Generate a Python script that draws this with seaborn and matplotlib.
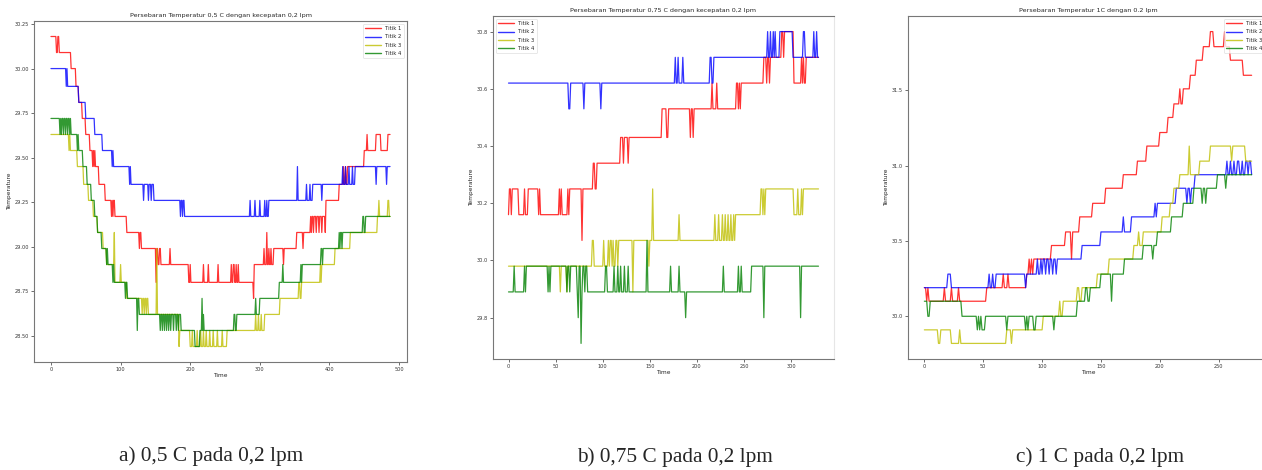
import numpy as np
import pandas as pd
import matplotlib
matplotlib.use("Agg")
import matplotlib.pyplot as plt
from matplotlib.ticker import MultipleLocator, FormatStrFormatter
import seaborn as sns

#%% Data: (start time, temperature) change points
# a) 0,5 C pada 0,2 lpm
n_a = 488
red_a = [(0, 30.18), (8, 30.09), (10, 30.18), (12, 30.09), (29, 30.00), (36, 29.90), (40, 29.81),
         (45, 29.72), (50, 29.63), (56, 29.54), (60, 29.45), (61, 29.54), (62, 29.45), (63, 29.54),
         (64, 29.45), (69, 29.35), (78, 29.26), (87, 29.17), (88, 29.26), (89, 29.17), (90, 29.26),
         (92, 29.17), (109, 29.08), (127, 28.99), (128, 29.08), (130, 28.99), (151, 28.80), (152, 28.99),
         (154, 28.90), (156, 28.99), (158, 28.90), (171, 28.99), (172, 28.90), (198, 28.80), (200, 28.90),
         (201, 28.80), (219, 28.90), (220, 28.80), (226, 28.90), (227, 28.80), (240, 28.90), (241, 28.80),
         (259, 28.90), (260, 28.80), (262, 28.90), (264, 28.80), (266, 28.90), (267, 28.80), (269, 28.90),
         (270, 28.80), (291, 28.71), (292, 28.90), (306, 28.99), (307, 28.90), (310, 29.08), (311, 28.90),
         (313, 28.99), (314, 28.90), (316, 28.99), (317, 28.90), (320, 28.99), (334, 28.90), (335, 28.99),
         (353, 29.08), (362, 28.99), (363, 29.08), (373, 29.17), (374, 29.08), (375, 29.17), (377, 29.08),
         (378, 29.17), (381, 29.08), (382, 29.17), (385, 29.08), (386, 29.17), (389, 29.08), (390, 29.17),
         (394, 29.08), (395, 29.26), (414, 29.35), (420, 29.45), (421, 29.35), (423, 29.45), (424, 29.35),
         (426, 29.45), (450, 29.54), (454, 29.63), (455, 29.54), (467, 29.63), (474, 29.54), (484, 29.63)]
blue_a = [(0, 30.00), (22, 29.90), (23, 30.00), (24, 29.90), (40, 29.81), (50, 29.72), (63, 29.63),
          (74, 29.54), (88, 29.45), (89, 29.54), (90, 29.45), (113, 29.35), (114, 29.45), (115, 29.35),
          (133, 29.26), (134, 29.35), (140, 29.26), (141, 29.35), (144, 29.26), (145, 29.35), (148, 29.26),
          (186, 29.17), (187, 29.26), (189, 29.17), (190, 29.26), (192, 29.17), (286, 29.26), (287, 29.17),
          (293, 29.26), (294, 29.17), (300, 29.26), (301, 29.17), (307, 29.26), (308, 29.17), (310, 29.26),
          (311, 29.17), (313, 29.26), (354, 29.45), (355, 29.26), (367, 29.35), (368, 29.26), (372, 29.35),
          (373, 29.26), (376, 29.35), (389, 29.26), (390, 29.35), (419, 29.45), (420, 29.35), (423, 29.45),
          (424, 29.35), (428, 29.45), (429, 29.35), (433, 29.45), (434, 29.35), (437, 29.45), (467, 29.35),
          (468, 29.45), (482, 29.35), (483, 29.45)]
yellow_a = [(0, 29.63), (26, 29.54), (27, 29.63), (28, 29.54), (38, 29.45), (47, 29.35), (54, 29.26),
            (61, 29.17), (67, 29.08), (75, 28.99), (80, 28.90), (91, 29.08), (92, 28.80), (100, 28.90),
            (101, 28.80), (109, 28.71), (131, 28.62), (132, 28.71), (134, 28.62), (135, 28.71), (137, 28.62),
            (138, 28.71), (140, 28.62), (152, 28.99), (153, 28.62), (184, 28.44), (185, 28.53), (200, 28.44),
            (203, 28.53), (204, 28.44), (210, 28.53), (211, 28.44), (215, 28.53), (216, 28.44), (219, 28.53),
            (220, 28.44), (223, 28.53), (224, 28.44), (228, 28.53), (229, 28.44), (233, 28.53), (234, 28.44),
            (239, 28.53), (240, 28.44), (246, 28.53), (247, 28.44), (253, 28.53), (294, 28.62), (295, 28.53),
            (298, 28.62), (299, 28.53), (302, 28.62), (303, 28.53), (307, 28.62), (329, 28.71), (356, 28.80),
            (358, 28.71), (360, 28.80), (387, 28.90), (388, 28.80), (389, 28.90), (408, 28.99), (430, 29.08),
            (469, 29.17), (471, 29.26), (472, 29.17), (484, 29.26), (486, 29.17)]
green_a = [(0, 29.72), (13, 29.63), (14, 29.72), (15, 29.63), (16, 29.72), (18, 29.63), (19, 29.72),
           (21, 29.63), (22, 29.72), (24, 29.63), (25, 29.72), (27, 29.63), (28, 29.72), (29, 29.63),
           (38, 29.54), (39, 29.63), (40, 29.54), (46, 29.45), (52, 29.35), (58, 29.26), (63, 29.17),
           (67, 29.08), (73, 28.99), (80, 28.90), (81, 28.99), (82, 28.90), (89, 28.80), (90, 28.90),
           (91, 28.80), (107, 28.71), (108, 28.80), (110, 28.71), (124, 28.53), (125, 28.71), (127, 28.62),
           (157, 28.53), (158, 28.62), (160, 28.53), (161, 28.62), (163, 28.53), (164, 28.62), (166, 28.53),
           (167, 28.62), (169, 28.53), (170, 28.62), (172, 28.53), (173, 28.62), (176, 28.53), (177, 28.62),
           (180, 28.53), (181, 28.62), (183, 28.53), (184, 28.62), (187, 28.53), (207, 28.44), (214, 28.53),
           (217, 28.71), (218, 28.53), (219, 28.62), (220, 28.53), (263, 28.62), (265, 28.53), (267, 28.62),
           (294, 28.71), (295, 28.62), (300, 28.71), (328, 28.80), (333, 28.90), (334, 28.80), (359, 28.90),
           (360, 28.80), (361, 28.90), (388, 28.99), (390, 28.90), (391, 28.99), (414, 29.08), (415, 28.99),
           (416, 29.08), (418, 28.99), (419, 29.08), (448, 29.17), (450, 29.08), (452, 29.17)]

# b) 0,75 C pada 0,2 lpm
n_b = 330
red_b = [(0, 30.16), (1, 30.25), (3, 30.16), (4, 30.25), (11, 30.16), (17, 30.25), (18, 30.16),
         (21, 30.25), (32, 30.16), (33, 30.25), (34, 30.16), (54, 30.25), (55, 30.16), (56, 30.25),
         (57, 30.16), (63, 30.25), (64, 30.16), (65, 30.25), (78, 30.07), (79, 30.25), (90, 30.34),
         (92, 30.25), (94, 30.34), (119, 30.43), (122, 30.34), (123, 30.43), (127, 30.34), (128, 30.43),
         (163, 30.53), (168, 30.43), (170, 30.53), (193, 30.43), (194, 30.53), (196, 30.43), (197, 30.53),
         (216, 30.62), (217, 30.53), (221, 30.62), (222, 30.53), (242, 30.62), (244, 30.53), (245, 30.62),
         (246, 30.53), (247, 30.62), (271, 30.71), (274, 30.62), (275, 30.71), (277, 30.62), (278, 30.71),
         (290, 30.80), (292, 30.71), (293, 30.80), (303, 30.62), (311, 30.71), (312, 30.62), (313, 30.71),
         (314, 30.62), (316, 30.71)]
blue_b = [(0, 30.62), (64, 30.53), (66, 30.62), (80, 30.53), (81, 30.62), (98, 30.53), (99, 30.62),
          (177, 30.71), (178, 30.62), (180, 30.71), (181, 30.62), (185, 30.71), (186, 30.62), (214, 30.71),
          (216, 30.62), (218, 30.71), (275, 30.80), (276, 30.71), (278, 30.80), (279, 30.71), (281, 30.80),
          (282, 30.71), (283, 30.80), (284, 30.71), (288, 30.80), (302, 30.71), (313, 30.80), (315, 30.71),
          (324, 30.80), (325, 30.71), (327, 30.80), (328, 30.71)]
yellow_b = [(0, 29.98), (55, 29.89), (56, 29.98), (62, 29.89), (63, 29.98), (89, 30.07), (91, 29.98),
            (101, 30.07), (102, 29.98), (106, 30.07), (107, 29.98), (108, 30.07), (110, 29.98), (111, 30.07),
            (112, 29.98), (114, 30.07), (116, 29.98), (117, 30.07), (132, 29.89), (133, 30.07), (149, 29.98),
            (150, 30.07), (153, 30.25), (154, 30.07), (181, 30.16), (182, 30.07), (219, 30.16), (220, 30.07),
            (223, 30.16), (224, 30.07), (227, 30.16), (228, 30.07), (230, 30.16), (231, 30.07), (233, 30.16),
            (234, 30.07), (236, 30.16), (237, 30.07), (239, 30.16), (240, 30.07), (241, 30.16), (268, 30.25),
            (270, 30.16), (271, 30.25), (272, 30.16), (273, 30.25), (303, 30.16), (307, 30.25), (308, 30.16),
            (311, 30.25), (312, 30.16), (313, 30.25)]
green_b = [(0, 29.89), (6, 29.98), (7, 29.89), (17, 29.98), (18, 29.89), (19, 29.98), (42, 29.89),
           (43, 29.98), (44, 29.89), (45, 29.98), (62, 29.89), (63, 29.98), (65, 29.89), (66, 29.98),
           (73, 29.89), (74, 29.80), (75, 29.98), (77, 29.71), (78, 29.89), (79, 29.98), (81, 29.89),
           (82, 29.98), (84, 29.89), (103, 29.98), (105, 29.89), (112, 29.98), (113, 29.89), (116, 29.98),
           (117, 29.89), (119, 29.98), (120, 29.89), (123, 29.98), (124, 29.89), (127, 29.98), (128, 29.89),
           (147, 30.07), (148, 29.89), (172, 29.98), (173, 29.89), (181, 29.98), (182, 29.89), (188, 29.80),
           (189, 29.89), (228, 29.98), (229, 29.89), (244, 29.98), (245, 29.89), (247, 29.98), (248, 29.89),
           (258, 29.98), (271, 29.80), (272, 29.98), (310, 29.80), (311, 29.98)]

# c) 1 C pada 0,2 lpm
n_c = 279
red_c = [(0, 30.19), (2, 30.10), (3, 30.19), (4, 30.10), (17, 30.19), (18, 30.10), (23, 30.19),
         (24, 30.10), (29, 30.19), (30, 30.10), (53, 30.19), (67, 30.28), (68, 30.19), (71, 30.28),
         (72, 30.19), (87, 30.28), (89, 30.38), (90, 30.28), (91, 30.38), (92, 30.28), (93, 30.38),
         (108, 30.47), (120, 30.56), (125, 30.38), (126, 30.56), (132, 30.66), (143, 30.75), (154, 30.85),
         (169, 30.94), (181, 31.03), (189, 31.13), (200, 31.22), (207, 31.32), (212, 31.41), (217, 31.51),
         (218, 31.41), (220, 31.51), (226, 31.60), (231, 31.70), (237, 31.79), (243, 31.89), (246, 31.79),
         (255, 31.89), (256, 31.79), (260, 31.70), (271, 31.60)]
blue_c = [(0, 30.19), (20, 30.28), (23, 30.19), (55, 30.28), (56, 30.19), (58, 30.28), (59, 30.19),
          (61, 30.28), (86, 30.19), (87, 30.28), (96, 30.38), (97, 30.28), (99, 30.38), (100, 30.28),
          (101, 30.38), (103, 30.28), (104, 30.38), (106, 30.28), (107, 30.38), (109, 30.28), (110, 30.38),
          (112, 30.28), (113, 30.38), (134, 30.47), (150, 30.56), (169, 30.66), (170, 30.56), (176, 30.66),
          (196, 30.75), (197, 30.66), (198, 30.75), (214, 30.85), (223, 30.75), (224, 30.85), (226, 30.75),
          (227, 30.85), (230, 30.94), (257, 31.03), (258, 30.94), (260, 31.03), (261, 30.94), (263, 31.03),
          (264, 30.94), (266, 31.03), (268, 30.94), (270, 31.03), (271, 30.94), (273, 31.03), (275, 30.94),
          (276, 31.03), (278, 30.94)]
yellow_c = [(0, 29.91), (12, 29.82), (14, 29.91), (23, 29.82), (30, 29.91), (31, 29.82), (70, 29.91),
            (74, 29.82), (75, 29.91), (101, 30.00), (115, 30.10), (116, 30.00), (118, 30.10), (130, 30.19),
            (132, 30.10), (134, 30.19), (147, 30.28), (157, 30.38), (178, 30.47), (182, 30.56), (183, 30.47),
            (186, 30.56), (202, 30.66), (209, 30.75), (212, 30.85), (217, 30.94), (225, 31.13), (226, 30.94),
            (234, 31.03), (243, 31.13), (261, 31.03), (262, 31.13), (273, 31.03)]
green_c = [(0, 30.10), (3, 30.00), (5, 30.10), (32, 30.00), (45, 29.91), (46, 30.00), (47, 29.91),
           (48, 30.00), (49, 29.91), (52, 30.00), (70, 29.91), (71, 30.00), (86, 29.91), (87, 30.00),
           (88, 29.91), (89, 30.00), (93, 29.91), (95, 30.00), (110, 29.91), (111, 30.00), (130, 30.10),
           (137, 30.19), (139, 30.10), (141, 30.19), (150, 30.28), (159, 30.10), (160, 30.28), (170, 30.38),
           (186, 30.47), (194, 30.38), (195, 30.47), (198, 30.56), (210, 30.66), (220, 30.75), (229, 30.85),
           (236, 30.75), (237, 30.85), (239, 30.75), (240, 30.85), (249, 30.94), (256, 30.85), (257, 30.94)]

labels = ["Titik 1", "Titik 2", "Titik 3", "Titik 4"]
colors = ["#ff0000", "#0000ff", "#bfbf00", "#008000"]
titles = ["Persebaran Temperatur 0,5 C dengan kecepatan 0,2 lpm",
          "Persebaran Temperatur 0,75 C dengan kecepatan 0,2 lpm",
          "Persebaran Temperatur 1C dengan 0.2 lpm"]
captions = ["a) 0,5 C pada 0,2 lpm", "b) 0,75 C pada 0,2 lpm", "c) 1 C pada 0,2 lpm"]


def expand(points, n):
    # step series from change points
    t = [p[0] for p in points] + [n]
    v = [p[1] for p in points]
    return np.repeat(v, np.diff(t))


def make_frame(series, n):
    frames = []
    for lab, pts in zip(labels, series):
        y = expand(pts, n)
        frames.append(pd.DataFrame({"Time": np.arange(n), "Temperature": y, "Titik": lab}))
    return pd.concat(frames, ignore_index=True)


data_a = make_frame([red_a, blue_a, yellow_a, green_a], n_a)
data_b = make_frame([red_b, blue_b, yellow_b, green_b], n_b)
data_c = make_frame([red_c, blue_c, yellow_c, green_c], n_c)

#%% Figure
sns.set_theme(style="ticks", color_codes=False)
plt.rcParams['font.family'] = ['DejaVu Sans']
W, H = 1262, 470
fig = plt.figure(figsize=(W / 100, H / 100), dpi=100)
fig.patch.set_facecolor("white")

boxes = [(34, 21, 407, 362), (493, 16, 834, 359), (908, 16, 1268, 359)]
frames = [data_a, data_b, data_c]
xsteps = [100, 50, 50]
ysteps = [0.25, 0.2, 0.5]
yfmt = ["%.2f", "%.1f", "%.1f"]
leg_loc = ["upper right", "upper left", "upper right"]

for k in range(3):
    l, t, r, b = boxes[k]
    ax = fig.add_axes([l / W, 1 - b / H, (r - l) / W, (b - t) / H])
    sns.lineplot(data=frames[k], x="Time", y="Temperature", hue="Titik",
                 palette=colors, estimator=None, lw=0.9, alpha=0.8, ax=ax)
    ax.xaxis.set_major_locator(MultipleLocator(xsteps[k]))
    ax.yaxis.set_major_locator(MultipleLocator(ysteps[k]))
    ax.yaxis.set_major_formatter(FormatStrFormatter(yfmt[k]))
    ax.tick_params(labelsize=3.6, length=2, width=0.5, colors="#333333", pad=1.5)
    ax.set_xlabel("Time", fontsize=4.2, labelpad=1)
    ax.set_ylabel("Temperature", fontsize=4.2, labelpad=2)
    ax.set_title(titles[k], fontsize=4.6, pad=3)
    for s in ax.spines.values():
        s.set_color("#777777")
        s.set_linewidth(0.8)
    if k == 1:
        ax.spines["right"].set_color("#e6e6e6")
    handles, _ = ax.get_legend_handles_labels()
    leg = ax.legend(handles, labels, loc=leg_loc[k], fontsize=3.8, handlelength=3,
                    frameon=True, borderpad=0.5, labelspacing=0.6)
    leg.get_frame().set_linewidth(0.4)
    for h in leg.get_lines():
        h.set_linewidth(1.0)

cap_x = [211, 675, 1100]
cap_y = [456, 457, 457]
for k in range(3):
    fig.text(cap_x[k] / W, 1 - cap_y[k] / H, captions[k], ha="center", va="center",
             fontsize=15.3, family=["Liberation Serif", "DejaVu Serif"])

fig.savefig("out.png", dpi=100)
